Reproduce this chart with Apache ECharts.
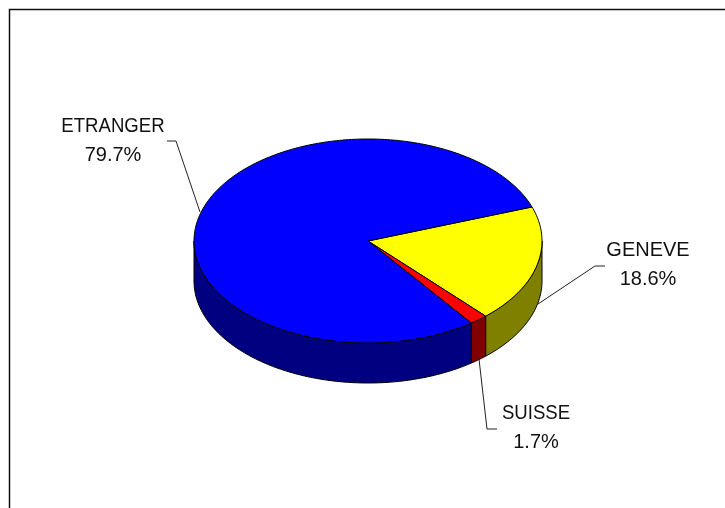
<!DOCTYPE html>
<html><head><meta charset="utf-8">
<style>html,body{margin:0;padding:0;background:#fff}#c{width:725px;height:508px}</style>
<script src="https://cdn.jsdelivr.net/npm/echarts@6/dist/echarts.min.js"></script>
</head><body><div id="c"></div>
<script>
const categories = ['GENEVE', 'SUISSE', 'ETRANGER'];
const values = [18.6, 1.7, 79.7];
const topColors = ['#ffff00', '#ff0000', '#0000ff'];
const sideColors = ['#808000', '#800000', '#000080'];
const labelLines = {
  GENEVE: [[538,304],[595,266],[605,266]],
  SUISSE: [[479,359],[487,429],[497,429]],
  ETRANGER: [[200,212],[176,141],[167,141]]
};
const labelPos = {GENEVE:[648,264.5], SUISSE:[536,428], ETRANGER:[113,140.5]};
const nameScale = {GENEVE:1, SUISSE:0.93, ETRANGER:0.93};
const cx = 368, cy = 241, rx = 174, ry = 102, depth = 40;
const startDeg = -19.5;
const total = values.reduce((a,b)=>a+b,0);
const rad = d => d*Math.PI/180;
const pt = (d, dy=0) => [cx+rx*Math.cos(rad(d)), cy+dy+ry*Math.sin(rad(d))];
function arc(a,b,dy){const n=Math.max(2,Math.ceil(Math.abs(b-a)));const o=[];for(let i=0;i<=n;i++)o.push(pt(a+(b-a)*i/n,dy));return o;}
let acc = startDeg;
const spans = values.map(v=>{const s=acc;acc+=v/total*360;return [s,acc];});
const stroke = {stroke:'#000',lineWidth:1,lineJoin:'round'};
const font = '20px "Liberation Sans", Arial, sans-serif';
function renderItem(params, api){
  const i = params.dataIndex, [a,b] = spans[i], cat = categories[i];
  const children = [];
  const s = Math.max(a,0), e = Math.min(b,180);
  if (e > s) {
    children.push({type:'polygon',shape:{points:arc(s,e,0).concat(arc(e,s,depth))},
      style:Object.assign({fill:sideColors[i]},stroke),z2:1});
  }
  children.push({type:'polygon',shape:{points:[[cx,cy]].concat(arc(a,b,0))},
    style:Object.assign({fill:topColors[i]},stroke),z2:2});
  children.push({type:'polyline',shape:{points:labelLines[cat]},
    style:{stroke:'#222',lineWidth:1,fill:null},z2:3});
  const p = labelPos[cat];
  children.push({type:'text',x:p[0],y:p[1]-14.5,scaleX:nameScale[cat],z2:4,style:{
    text:cat,font,fill:'#111',align:'center',verticalAlign:'middle'}});
  children.push({type:'text',x:p[0],y:p[1]+14.5,z2:4,style:{
    text:api.value(0).toFixed(1)+'%',font,fill:'#111',align:'center',verticalAlign:'middle'}});
  return {type:'group',children};
}
const chart = echarts.init(document.getElementById('c'),null,{renderer:'canvas'});
chart.setOption({
  animation:false,
  backgroundColor:'#fff',
  graphic:[{type:'polyline',silent:true,shape:{points:[[9.5,508],[9.5,9.5],[725,9.5]]},style:{stroke:'#111',lineWidth:1.5,fill:null}}],
  series:[{type:'custom',coordinateSystem:'none',renderItem,silent:true,
    data:values.map((v,i)=>({name:categories[i],value:[v]}))}]
});
</script></body></html>
